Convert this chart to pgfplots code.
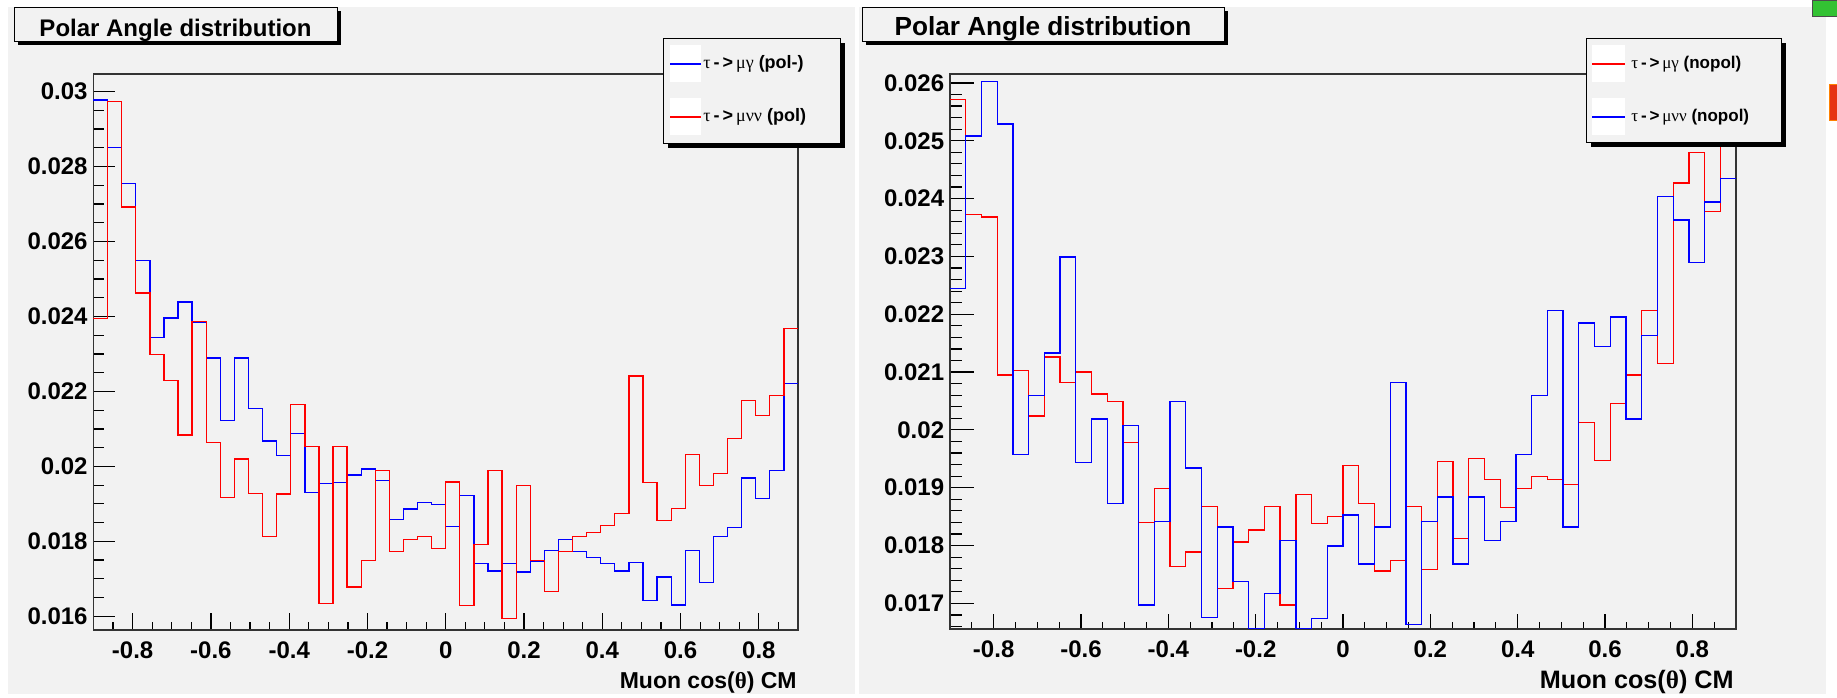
\documentclass[border=0pt]{standalone}
\usepackage{pgfplots}
\pgfplotsset{compat=1.18}
\usepackage{pgfplotstable}
\usepackage{fontspec}
\setmainfont{Liberation Sans}
\newfontfamily\gr{Liberation Serif}
\definecolor{bg}{RGB}{242,242,242}
\definecolor{hred}{RGB}{255,0,0}
\definecolor{hblue}{RGB}{0,0,255}

% bin low edges, last row closes the last bin
% lb/lr: left pad (pol- / pol), rr/rb: right pad (nopol)
\pgfplotstableread{
x      lb      lr      rr      rb
-0.900 0.02978 0.02394 0.02571 0.02245
-0.864 0.02851 0.02973 0.02373 0.02508
-0.828 0.02754 0.02692 0.02368 0.02603
-0.792 0.02550 0.02463 0.02095 0.02529
-0.756 0.02344 0.02298 0.02103 0.01957
-0.720 0.02396 0.02230 0.02024 0.02059
-0.684 0.02439 0.02084 0.02126 0.02133
-0.648 0.02384 0.02387 0.02082 0.02299
-0.612 0.02289 0.02064 0.02100 0.01944
-0.576 0.02123 0.01917 0.02062 0.02019
-0.540 0.02289 0.02020 0.02049 0.01873
-0.504 0.02155 0.01927 0.01978 0.02008
-0.468 0.02068 0.01812 0.01840 0.01697
-0.432 0.02029 0.01926 0.01899 0.01842
-0.396 0.02087 0.02166 0.01764 0.02049
-0.360 0.01930 0.02053 0.01789 0.01934
-0.324 0.01954 0.01635 0.01868 0.01675
-0.288 0.01957 0.02053 0.01726 0.01832
-0.252 0.01977 0.01678 0.01806 0.01738
-0.216 0.01993 0.01749 0.01827 0.01656
-0.180 0.01962 0.01989 0.01868 0.01717
-0.144 0.01859 0.01772 0.01697 0.01809
-0.108 0.01886 0.01805 0.01888 0.01656
-0.072 0.01903 0.01812 0.01838 0.01674
-0.036 0.01898 0.01781 0.01850 0.01799
 0.000 0.01839 0.01958 0.01939 0.01853
 0.036 0.01922 0.01628 0.01873 0.01768
 0.072 0.01741 0.01792 0.01756 0.01832
 0.108 0.01721 0.01989 0.01774 0.02082
 0.144 0.01741 0.01595 0.01868 0.01664
 0.180 0.01718 0.01949 0.01758 0.01842
 0.216 0.01746 0.01749 0.01945 0.01884
 0.252 0.01776 0.01666 0.01812 0.01768
 0.288 0.01804 0.01772 0.01950 0.01884
 0.324 0.01772 0.01812 0.01914 0.01809
 0.360 0.01757 0.01824 0.01866 0.01842
 0.396 0.01741 0.01843 0.01899 0.01957
 0.432 0.01721 0.01874 0.01920 0.02059
 0.468 0.01744 0.02241 0.01914 0.02207
 0.504 0.01643 0.01957 0.01906 0.01832
 0.540 0.01705 0.01855 0.02013 0.02185
 0.576 0.01630 0.01887 0.01947 0.02144
 0.612 0.01776 0.02032 0.02046 0.02195
 0.648 0.01690 0.01949 0.02095 0.02019
 0.684 0.01812 0.01981 0.02207 0.02163
 0.720 0.01836 0.02075 0.02115 0.02403
 0.756 0.01969 0.02176 0.02427 0.02363
 0.792 0.01914 0.02135 0.02480 0.02289
 0.828 0.01989 0.02190 0.02378 0.02394
 0.864 0.02221 0.02367 0.02540 0.02435
 0.900 0.02221 0.02367 0.02540 0.02435
}\histdata

\pgfplotsset{
  rootpad/.style={
    scale only axis, anchor=south west, clip=false,
    xmin=-0.9, xmax=0.9,
    xtick={-0.8,-0.6,-0.4,-0.2,0,0.2,0.4,0.6,0.8},
    minor xtick={-0.85,-0.8,...,0.85},
    xtick pos=left, ytick pos=left, tick align=inside,
    axis line style={black!80, line width=0.65pt},
    tick style={black, line width=0.6pt},
    scaled y ticks=false,
    /pgf/number format/fixed, /pgf/number format/precision=3,
    /pgf/number format/assume math mode=true,
    ticklabel style={font=\fontsize{12}{12}\selectfont\bfseries},
    yticklabel style={anchor=east, inner sep=0pt, xshift=-2.75pt},
    xticklabel style={anchor=north, inner sep=0pt, yshift=-5.5pt},
  },
  hist/.style={const plot, line width=0.65pt},
}

\begin{document}
\begin{tikzpicture}
\useasboundingbox (0,0) rectangle (918.5pt,-348.5pt);
\fill[white] (0,0) rectangle (918.5pt,-348.5pt);
\fill[bg] (4pt,-3.5pt) rectangle (427.5pt,-347pt);
\fill[bg] (429.5pt,-3.5pt) rectangle (913pt,-347pt);
\filldraw[fill=green!70!black!80, draw=black!70] (906pt,0pt) rectangle (918.5pt,-8pt);
\filldraw[fill={rgb,255:red,230;green,50;blue,20}, draw=orange] (914.5pt,-42pt) rectangle (918.5pt,-60pt);

% left pad
\begin{axis}[rootpad, at={(46.75pt,-315pt)}, width=352.25pt, height=278pt,
  ymin=0.015634, ymax=0.03047,
  ytick={0.016,0.018,0.02,0.022,0.024,0.026,0.028,0.03},
  minor ytick={0.016,0.0165,...,0.0301},
  major tick length=10.85pt, minor tick length=5.35pt,
  xtick style={/pgfplots/major tick length=8.65pt, /pgfplots/minor tick length=4.15pt},
]
\addplot[hist, hblue] table[x=x, y=lb] {\histdata};
\addplot[hist, hred] table[x=x, y=lr] {\histdata};
\end{axis}

% right pad
\begin{axis}[rootpad, at={(475pt,-314.5pt)}, width=393pt, height=277.5pt,
  ymin=0.016557, ymax=0.026154,
  ytick={0.017,0.018,0.019,0.02,0.021,0.022,0.023,0.024,0.025,0.026},
  minor ytick={0.0166,0.0168,...,0.02601},
  major tick length=12pt, minor tick length=5.85pt,
  xtick style={/pgfplots/major tick length=7.4pt, /pgfplots/minor tick length=3.7pt},
]
\addplot[hist, hred] table[x=x, y=rr] {\histdata};
\addplot[hist, hblue] table[x=x, y=rb] {\histdata};
\end{axis}

% titles
\fill[black] (9pt,-5.5pt) rectangle (170.5pt,-22.5pt);
\filldraw[fill=bg, draw=black, line width=0.5pt] (7pt,-3.5pt) rectangle (168.5pt,-20.5pt);
\node[anchor=base, inner sep=0pt, font=\fontsize{12}{12}\selectfont\bfseries] at (87.75pt,-18pt) {Polar Angle distribution};
\fill[black] (433pt,-5.5pt) rectangle (614pt,-22.5pt);
\filldraw[fill=bg, draw=black, line width=0.5pt] (431pt,-3.5pt) rectangle (612pt,-20.5pt);
\node[anchor=base, inner sep=0pt, font=\fontsize{13.1}{13.1}\selectfont\bfseries] at (521.5pt,-17.75pt) {Polar Angle distribution};

% legends
\fill[black] (334pt,-21.5pt) rectangle (422.5pt,-74pt);
\filldraw[fill=bg, draw=black, line width=0.5pt] (331.5pt,-19pt) rectangle (420pt,-71.5pt);
\fill[white] (335pt,-22.5pt) rectangle (350.5pt,-41pt);
\fill[white] (335pt,-49pt) rectangle (350.5pt,-67.5pt);
\draw[hblue, line width=0.6pt] (335pt,-32pt) -- (350.5pt,-32pt);
\draw[hred, line width=0.6pt] (335pt,-58.5pt) -- (350.5pt,-58.5pt);
\node[anchor=west, inner sep=0pt, font=\fontsize{9}{9}\selectfont\bfseries] at (351.5pt,-32pt) {{\gr\mdseries τ}\,-\,>\,{\gr\mdseries μγ} (pol-)};
\node[anchor=west, inner sep=0pt, font=\fontsize{9}{9}\selectfont\bfseries] at (351.5pt,-58.5pt) {{\gr\mdseries τ}\,-\,>\,{\gr\mdseries μνν} (pol)};

\fill[black] (795.5pt,-21.5pt) rectangle (893pt,-73.5pt);
\filldraw[fill=bg, draw=black, line width=0.5pt] (793pt,-19pt) rectangle (890.5pt,-71pt);
\fill[white] (796pt,-22.5pt) rectangle (812.5pt,-41pt);
\fill[white] (796pt,-49pt) rectangle (812.5pt,-67.5pt);
\draw[hred, line width=0.6pt] (796pt,-32pt) -- (812.5pt,-32pt);
\draw[hblue, line width=0.6pt] (796pt,-58.5pt) -- (812.5pt,-58.5pt);
\node[anchor=west, inner sep=0pt, font=\fontsize{8.5}{8.5}\selectfont\bfseries] at (815.5pt,-32pt) {{\gr\mdseries τ}\,-\,>\,{\gr\mdseries μγ} (nopol)};
\node[anchor=west, inner sep=0pt, font=\fontsize{8.5}{8.5}\selectfont\bfseries] at (815.5pt,-58.5pt) {{\gr\mdseries τ}\,-\,>\,{\gr\mdseries μνν} (nopol)};

% axis titles
\node[anchor=base east, inner sep=0pt, font=\fontsize{11.5}{11.5}\selectfont\bfseries] at (398.5pt,-344pt) {Muon cos({\gr θ}) CM};
\node[anchor=base east, inner sep=0pt, font=\fontsize{12.6}{12.6}\selectfont\bfseries] at (867pt,-344pt) {Muon cos({\gr θ}) CM};
\end{tikzpicture}
\end{document}
